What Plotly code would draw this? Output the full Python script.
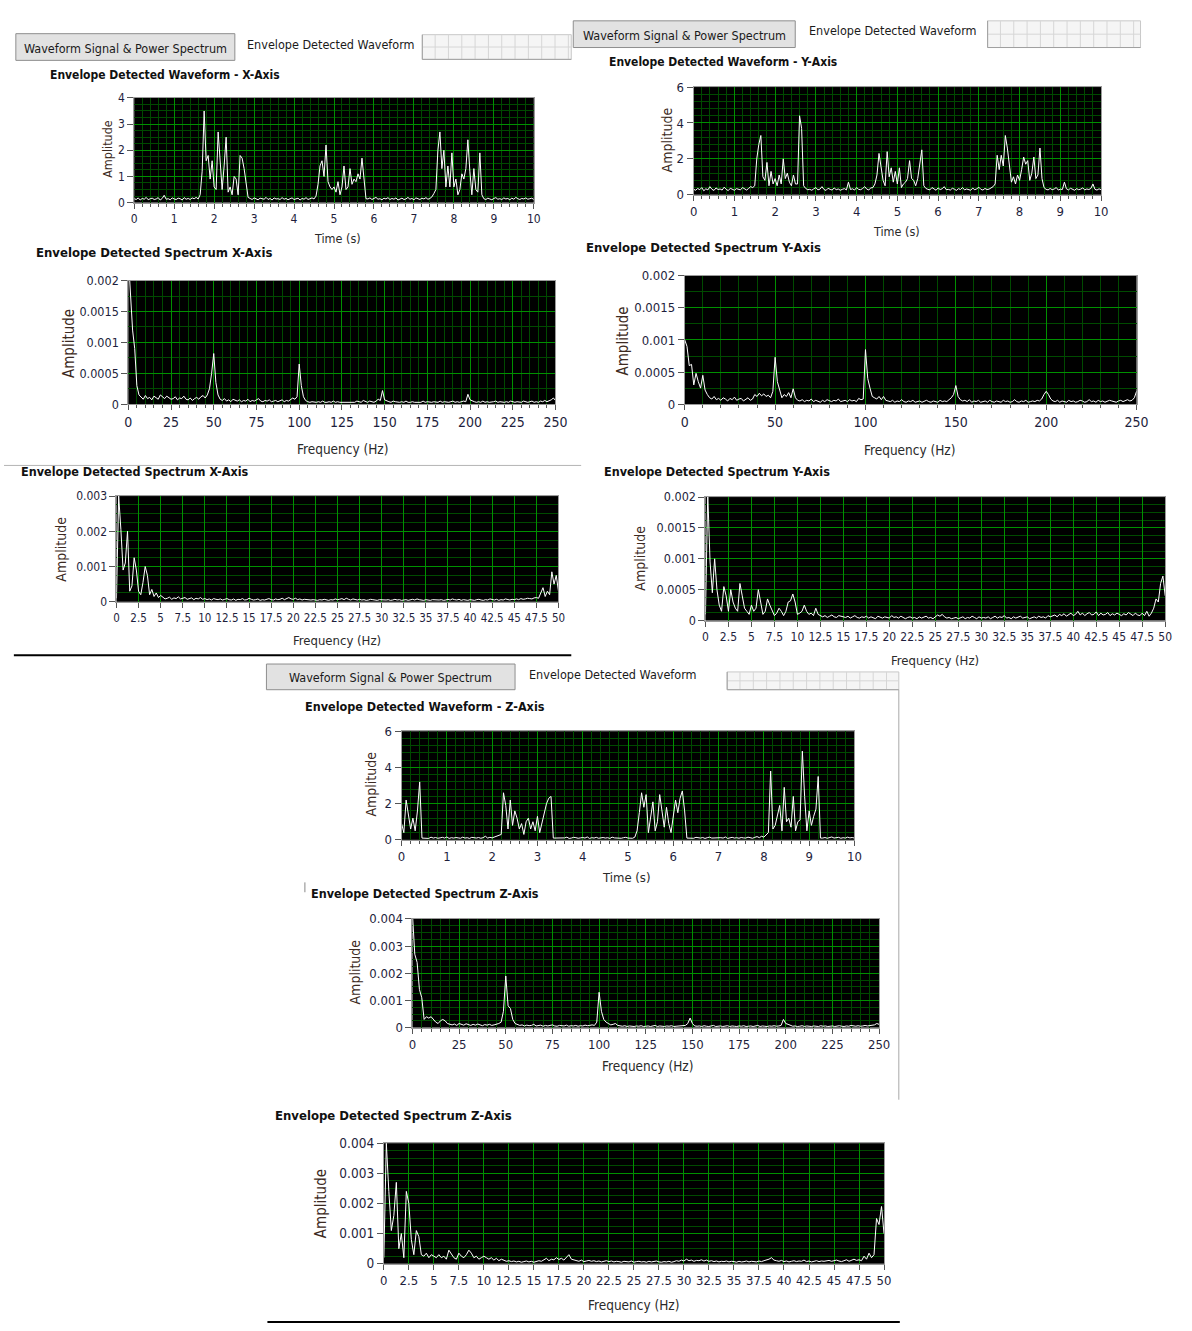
import plotly.graph_objects as go
import numpy as np

W, H = 1192, 1331
FONT = "DejaVu Sans Condensed, Liberation Sans Narrow, Liberation Sans, Arial, sans-serif"

# ---------------- data ----------------
time_step = 0.05      # s between samples
f250_step = 1.25      # Hz between bins (0-250 Hz spectra)
f50_step = 0.25       # Hz between bins (0-50 Hz spectra)
SPEC_UNIT = 1e-4      # spectrum lists are written in units of 1e-4

wave_x = [0.15,0.12,0.18,0.10,0.16,0.13,0.20,0.11,0.15,0.17,0.12,0.14,0.19,0.10,0.16,0.28,0.13,0.15,0.11,0.18,0.14,0.12,0.17,0.15,0.10,0.19,0.13,0.16,0.12,0.18,0.15,0.20,0.14,0.30,
          1.2,3.5,1.6,1.8,0.9,1.6,0.6,0.5,2.7,1.6,0.5,1.4,2.5,0.4,0.6,0.3,1.0,0.9,0.3,1.8,1.7,1.3,0.8,0.2,
          0.16,0.12,0.18,0.14,0.11,0.17,0.15,0.13,0.20,0.12,0.16,0.10,0.18,0.14,0.15,0.12,0.19,0.13,0.16,0.11,0.15,0.18,0.12,0.14,0.17,0.10,0.16,0.13,0.19,0.12,0.15,0.18,0.14,0.25,
          0.7,1.4,1.6,1.0,2.2,0.8,0.6,0.5,0.6,0.4,0.8,0.3,0.6,1.4,0.5,0.6,1.3,0.7,0.9,0.8,1.1,0.9,1.7,0.9,0.15,
          0.14,0.18,0.12,0.16,0.20,0.13,0.15,0.11,0.17,0.14,0.19,0.12,0.16,0.13,0.18,0.10,0.15,0.17,0.12,0.14,0.20,0.13,0.16,0.11,0.18,0.15,0.12,0.17,0.14,0.19,0.13,0.16,0.22,0.35,
          0.5,2.0,2.7,1.3,2.0,0.6,1.4,0.6,1.9,0.6,0.9,0.3,0.5,1.1,0.9,1.3,2.4,1.2,0.3,1.3,0.5,0.4,1.9,0.3,
          0.15,0.12,0.17,0.14,0.11,0.16,0.19,0.13,0.15,0.12,0.18,0.14,0.16,0.11,0.17,0.13,0.20,0.15,0.12,0.16,0.14,0.18,0.13,0.15,0.17,0.12]

wave_y = [0.30,0.25,0.35,0.28,0.40,0.22,0.33,0.27,0.45,0.30,0.24,0.38,0.29,0.32,0.26,0.42,0.30,0.23,0.36,0.28,0.25,0.34,0.30,0.27,0.40,0.31,0.26,0.35,0.45,0.40,
          0.5,2.0,2.8,3.3,1.0,0.8,1.8,0.5,1.3,0.6,0.9,0.5,1.1,0.6,2.0,0.9,1.2,0.7,0.5,1.1,0.6,0.6,4.4,3.7,0.5,
          0.35,0.28,0.30,0.25,0.33,0.40,0.27,0.31,0.45,0.29,0.24,0.36,0.30,0.26,0.38,0.28,0.32,0.25,0.30,0.34,0.27,0.70,0.29,0.33,0.26,0.40,0.30,0.28,0.35,0.45,0.31,0.27,0.38,0.40,
          0.6,1.1,2.3,1.4,0.8,0.5,2.4,1.0,1.5,0.7,1.3,0.6,1.5,0.4,0.6,0.7,0.9,1.9,0.9,0.8,0.5,0.9,1.7,2.5,0.5,
          0.35,0.30,0.27,0.40,0.32,0.25,0.38,0.29,0.33,0.45,0.28,0.30,0.26,0.36,0.31,0.24,0.34,0.29,0.40,0.27,0.32,0.30,0.25,0.37,0.28,0.33,0.42,0.30,0.26,0.35,0.29,0.31,0.40,0.45,
          0.6,2.2,1.4,2.2,1.6,3.3,2.6,1.5,0.7,1.0,0.6,1.1,0.8,1.4,2.1,1.7,1.9,0.8,1.2,2.1,0.9,1.1,2.6,0.9,0.4,
          0.30,0.27,0.35,0.28,0.32,0.40,0.26,0.31,0.29,0.70,0.33,0.27,0.36,0.30,0.25,0.34,0.28,0.31,0.38,0.27,0.32,0.29,0.35,0.60,0.30,0.26,0.33,0.28]

wave_z = [0.9,0.4,2.2,1.4,0.6,1.2,0.5,1.6,3.2,0.1,
          0.10,0.12,0.08,0.15,0.10,0.13,0.09,0.11,0.14,0.10,0.16,0.08,0.12,0.10,0.13,0.11,0.09,0.15,0.10,0.12,0.08,0.14,0.11,0.10,0.13,0.09,0.12,0.20,0.10,0.14,0.11,0.16,0.18,0.22,
          0.3,2.6,1.9,0.6,2.2,0.8,1.6,1.2,0.6,0.9,0.3,1.0,1.2,0.6,1.0,0.5,1.3,0.4,0.9,1.4,2.0,2.3,2.4,0.1,
          0.10,0.13,0.09,0.12,0.11,0.15,0.08,0.10,0.14,0.12,0.09,0.11,0.13,0.10,0.16,0.08,0.12,0.10,0.14,0.09,0.11,0.13,0.10,0.12,0.08,0.15,0.11,0.10,0.13,0.09,0.12,0.14,0.10,0.11,0.09,0.15,
          0.5,1.5,2.6,1.8,2.5,0.4,1.2,2.1,0.5,1.0,2.5,1.6,0.7,1.8,0.9,0.4,1.2,2.2,1.5,2.3,2.7,1.6,0.1,
          0.10,0.12,0.09,0.14,0.11,0.10,0.13,0.08,0.12,0.15,0.10,0.11,0.09,0.13,0.12,0.10,0.16,0.08,0.11,0.14,0.10,0.12,0.09,0.13,0.11,0.10,0.15,0.12,0.09,0.14,0.18,0.12,0.20,0.15,0.25,
          0.4,3.8,0.6,0.8,1.4,1.9,0.5,2.9,1.0,1.2,0.7,2.4,0.5,1.0,1.1,4.9,2.4,0.5,1.6,0.8,1.3,1.7,3.5,0.1,
          0.10,0.13,0.09,0.12,0.16,0.10,0.11,0.14,0.09,0.12,0.10,0.15,0.11,0.13,0.10]

spec_x250 = [24,18,12,9,3,1.5,
             1.2,0.8,1.4,0.9,1.1,0.7,1.3,1.0,0.8,1.5,1.2,0.9,1.3,1.1,0.8,0.9,1.2,0.7,1.0,0.9,1.3,0.8,0.7,1.0,0.6,0.9,1.1,0.8,1.2,1.4,
             1.0,1.5,2.5,5.0,8.2,3.5,1.5,0.8,
             0.6,0.9,0.5,0.7,0.4,0.8,0.6,0.5,0.7,0.4,0.6,0.5,0.8,0.4,0.6,0.5,0.7,0.9,0.5,0.4,0.6,0.5,0.7,0.4,0.5,0.6,0.4,0.5,0.7,0.4,0.6,0.5,0.8,1.0,
             0.8,1.2,6.5,3.0,1.2,0.6,
             0.4,0.3,0.4,0.3,0.3,0.4,0.3,0.5,0.3,0.3,0.4,0.3,0.5,0.3,0.4,0.3,0.3,0.4,0.3,0.3,0.4,0.3,0.3,0.5,0.4,0.3,0.6,0.4,0.3,0.5,0.4,0.3,0.5,
             0.8,0.6,2.2,0.7,
             0.5,0.4,0.3,0.5,0.4,0.3,0.3,0.4,0.3,0.5,0.3,0.3,0.4,0.3,0.3,0.4,0.3,0.5,0.3,0.4,0.3,0.3,0.4,0.3,0.3,0.5,0.3,0.4,0.3,0.3,0.4,0.5,0.3,0.4,0.3,0.4,0.5,
             0.4,1.6,0.7,
             0.5,0.4,0.3,0.4,0.3,0.5,0.3,0.4,0.3,0.3,0.4,0.5,0.3,0.4,0.3,0.3,0.4,0.3,0.5,0.4,0.3,0.4,0.3,0.3,0.5,0.4,0.3,0.4,0.5,0.3,0.4,0.3,0.5,0.4,0.6,0.4,0.5,0.7,
             1.0,0.6]

spec_y250 = [10,9,6,6.2,3,4.8,3.5,2.5,4.5,2.2,1.5,
             1.0,0.8,1.2,0.7,0.9,0.6,1.0,0.8,0.5,0.9,0.7,1.1,0.6,0.8,0.9,0.5,0.7,1.0,0.6,0.8,
             1.5,1.2,1.7,1.3,1.6,1.2,1.4,
             1.0,2.0,7.3,3.5,2.0,1.0,1.5,1.2,1.8,1.0,2.4,1.0,
             0.6,0.5,0.7,0.4,0.6,0.5,0.8,0.4,0.6,0.5,0.3,0.6,0.4,0.7,0.5,0.4,0.6,0.5,0.8,0.4,0.5,0.6,0.4,0.7,0.5,0.6,0.4,0.9,0.7,
             0.8,8.5,4.0,2.5,1.2,1.0,0.8,1.2,0.7,1.2,0.6,
             0.5,0.4,0.6,0.3,0.5,0.4,0.7,0.4,0.3,0.5,0.4,0.6,0.3,0.4,0.5,0.3,0.4,0.6,0.4,0.3,0.5,0.4,0.3,0.6,0.4,0.5,0.4,0.7,
             1.0,1.5,2.9,1.2,0.7,
             0.5,0.6,0.4,0.7,0.3,0.5,0.4,0.6,0.3,0.4,0.5,0.3,0.6,0.4,0.3,0.5,0.4,0.3,0.6,0.4,0.5,0.3,0.4,0.7,0.4,0.3,0.5,0.4,0.6,0.3,0.4,0.5,0.4,0.6,0.5,
             0.8,1.5,2.0,1.5,0.8,
             0.5,0.4,0.6,0.3,0.5,0.4,0.3,0.6,0.4,0.5,0.3,0.4,0.6,0.5,0.3,0.4,0.7,0.4,0.5,0.3,0.6,0.4,0.5,0.3,0.4,0.6,0.5,0.4,0.3,0.5,0.6,0.4,0.5,0.7,0.5,0.6,
             1.0,2.0]

spec_z250 = [42,27,24,14,11,3,4,3.5,4,3,2,1.5,2.5,3,2.5,1.5,1.2,
             1.0,1.3,0.8,1.5,1.1,0.9,1.4,1.0,0.8,1.2,0.9,1.3,1.0,0.7,1.1,0.9,1.2,0.8,1.0,
             1.2,1.5,2.0,6.0,19,8,7,3,1.5,1.0,
             0.8,1.0,0.6,0.9,0.7,0.8,1.2,0.6,0.7,0.9,0.5,0.8,0.6,0.7,1.0,0.6,0.5,0.8,0.7,0.6,0.9,0.5,0.7,0.6,0.8,0.5,0.7,0.6,0.9,0.7,0.8,1.0,
             0.8,2.0,13,6,3,2,1.5,1.0,1.2,1.5,0.8,
             0.6,0.5,0.7,0.4,0.6,0.5,0.4,0.6,0.5,0.7,0.4,0.5,0.6,0.4,0.5,0.8,0.4,0.6,0.5,0.4,0.6,0.5,0.7,0.4,0.5,0.6,0.5,0.7,
             0.8,1.5,3.5,1.5,0.6,
             0.5,0.6,0.4,0.7,0.5,0.4,0.6,0.8,0.4,0.5,0.6,0.4,0.5,0.7,0.4,0.6,0.5,0.4,0.6,0.5,0.7,0.4,0.5,0.6,0.4,0.5,0.8,0.4,0.6,0.5,0.4,0.6,0.5,0.7,0.5,0.6,
             0.8,3.0,1.5,1.2,0.7,
             0.5,0.6,0.4,0.5,0.7,0.4,0.6,0.5,0.4,0.6,0.5,0.4,0.7,0.5,0.6,0.4,0.5,0.6,0.4,0.5,0.7,0.5,0.4,0.6,0.5,0.8,0.6,0.5,0.7,0.5,0.6,0.8,0.6,0.7,0.9,1.0,
             1.5,1.2]

spec_x50 = [1,30,20.5,9,11,20,3,4.5,12.5,9,3,2,5.5,10,7.5,2,3.5,1.5,2.5,1.2,1.8,
            1.2,0.8,1.0,1.3,0.7,1.1,0.9,1.4,0.8,1.0,
            1.2,0.7,0.9,1.1,0.6,1.0,0.8,1.2,0.7,0.9,
            0.6,0.8,0.5,0.9,0.7,0.6,0.8,0.5,0.7,0.9,
            0.6,0.5,0.8,0.4,0.7,0.6,0.9,0.5,0.6,1.0,
            0.7,0.5,0.6,0.8,0.4,0.6,0.5,0.7,0.9,0.6,
            0.5,0.8,0.6,0.7,1.0,0.6,0.9,1.2,0.8,0.7,
            1.0,0.6,0.8,0.5,0.7,0.6,0.4,0.5,0.6,0.5,
            0.4,0.6,0.5,0.7,0.5,0.4,0.6,0.5,0.8,0.6,
            0.7,0.9,0.6,1.0,0.7,0.5,0.8,0.6,0.5,0.7,
            0.5,0.6,0.4,0.5,0.7,0.6,0.5,0.4,0.6,0.5,
            0.4,0.5,0.6,0.4,0.5,0.7,0.5,0.6,0.4,0.5,
            0.6,0.4,0.5,0.7,0.5,0.8,0.6,0.5,0.4,0.6,
            0.5,0.4,0.6,0.5,0.4,0.5,0.6,0.4,0.5,0.7,
            0.5,0.8,0.6,0.5,0.7,0.4,0.6,0.5,0.4,0.6,
            0.5,0.4,0.6,0.7,0.5,0.4,0.6,0.5,0.8,0.6,
            0.5,0.7,0.4,0.6,0.5,0.8,0.6,0.5,0.7,0.6,
            0.8,0.6,0.9,0.7,0.8,1.0,0.9,0.8,1.1,1.2,
            1.0,2.5,4,1.5,3,2,8.5,5,7.5,3]

spec_y50 = [1,20.5,9.5,4.5,10,5,2.5,1.5,5.5,4,
            1.5,5,3,2,1.5,6,4,2,1.5,1.0,
            2.5,1.5,2,5,3,1.0,1.5,3.5,2.5,1.5,
            0.8,1.2,2,1.5,0.8,1.5,3,3.2,4.3,3,
            1.0,1.2,1.5,2.5,1.5,1.0,1.2,0.8,2,1.0,
            0.8,
            0.6,0.8,0.5,0.7,0.9,0.6,0.5,0.8,0.7,0.6,
            0.5,0.7,0.4,0.6,0.8,0.5,0.4,0.6,0.5,0.7,
            0.4,0.6,0.5,0.3,0.7,0.5,0.4,0.6,0.5,0.4,
            0.8,0.5,0.6,0.4,0.7,0.5,0.3,0.5,0.6,0.4,
            0.5,0.3,0.6,0.4,0.5,0.7,0.4,0.5,0.3,0.6,
            0.9,0.7,1.0,0.6,0.4,0.5,0.3,0.4,0.5,0.3,
            0.4,0.6,0.3,0.5,0.4,0.7,0.5,0.3,0.6,0.4,
            0.5,0.4,0.6,0.3,0.5,0.7,0.4,0.6,0.5,0.8,
            0.4,0.5,0.3,0.6,0.4,0.5,0.7,0.4,0.5,0.6,
            0.3,0.5,0.6,0.4,0.7,0.5,0.6,0.4,0.8,0.6,
            0.7,0.9,0.6,1.0,0.8,1.1,0.7,0.9,1.2,0.8,
            1.0,1.5,0.9,1.2,0.8,1.1,1.3,0.9,1.0,1.4,
            0.8,1.2,0.9,1.0,1.3,0.8,1.1,0.9,1.2,1.0,
            0.8,1.1,0.9,1.3,1.0,0.8,1.2,0.9,
            0.8,1.2,0.8,1.5,0.7,1.2,2.0,3.5,3.0,6,7.2,4]

spec_z50 = [2,40,24,11,16,27,5,10,2,24,
            20,8,3,11,9,3,2.5,3.5,2,3,
            2.5,2,3,2,2.5,1.5,4.5,3,2,1.5,
            3.5,2.5,2,3,4.5,3.5,2,2.5,1.5,2,
            2.5,2,1.5,2,1.2,1.8,1.0,1.5,1.2,0.8,
            1.0,
            0.7,0.9,0.6,0.8,0.5,0.7,0.9,0.6,0.8,0.5,0.7,1.0,0.8,
            1.2,1.8,1.0,1.5,1.3,2.0,1.4,1.8,1.2,2.2,3.0,1.5,1.2,
            1.0,0.8,1.2,0.7,0.9,1.1,0.8,1.0,0.7,0.9,
            0.6,0.8,1.0,0.7,0.9,0.6,0.8,0.7,0.5,0.8,
            0.7,0.6,0.9,0.5,0.7,0.8,0.6,0.7,0.5,0.8,
            0.6,0.7,0.9,0.6,0.5,0.7,0.6,0.8,0.5,0.7,
            1.0,0.8,1.2,0.9,1.5,1.0,1.2,0.8,1.1,1.0,
            1.3,0.9,1.2,0.8,1.0,0.7,0.9,0.6,0.8,0.7,
            0.9,0.6,0.8,0.7,0.5,0.8,0.6,0.7,0.9,0.6,
            0.8,0.7,0.6,0.9,0.7,1.0,1.2,1.5,2.0,1.2,
            1.0,0.8,1.1,0.7,0.9,0.6,0.8,1.0,0.7,0.9,
            0.8,1.2,0.7,0.9,0.6,0.8,1.0,0.7,0.9,0.8,
            0.9,1.1,0.8,1.0,1.2,0.9,0.7,1.0,1.3,0.8,
            1.2,1.5,1.1,1.3,
            1.0,2.5,1.5,3.5,2,3,15,13,19,10]

for _arr in (wave_x, wave_y, wave_z, spec_x250, spec_y250, spec_z250, spec_x50, spec_y50, spec_z50):
    assert len(_arr) == 201, len(_arr)

# tick labels
wave_x_yticks = [0, 1, 2, 3, 4]
wave_x_ylabels = ["0", "1", "2", "3", "4"]
wave_yz_yticks = [0, 2, 4, 6]
wave_yz_ylabels = ["0", "2", "4", "6"]
spec_2m_yticks = [0, 0.0005, 0.001, 0.0015, 0.002]
spec_2m_ylabels = ["0", "0.0005", "0.001", "0.0015", "0.002"]
spec_3m_yticks = [0, 0.001, 0.002, 0.003]
spec_3m_ylabels = ["0", "0.001", "0.002", "0.003"]
spec_4m_yticks = [0, 0.001, 0.002, 0.003, 0.004]
spec_4m_ylabels = ["0", "0.001", "0.002", "0.003", "0.004"]

# ---------------- layout helpers ----------------
def fx(p):
    return p / W

def fy(p):
    return 1 - p / H

MAJ = "#009000"
MIN = "#004a00"
TICKC = "#1e1e3c"

panels = [
    dict(v=wave_x, step=time_step, sc=1, rect=(132, 537, 91, 197), xr=[0, 10], yr=[0, 4],
         xd=1, xmd=0.2, ytv=wave_x_yticks, ytt=wave_x_ylabels, ymd=0.25, fsx=12, fsy=12),
    dict(v=spec_x250, step=f250_step, sc=SPEC_UNIT, rect=(126, 559, 276, 401), xr=[0, 250], yr=[0, 0.002],
         xd=25, xmd=5, ytv=spec_2m_yticks, ytt=spec_2m_ylabels, ymd=0.00025, fsx=14, fsy=12.5),
    dict(v=spec_x50, step=f50_step, sc=SPEC_UNIT, rect=(114, 562, 494, 601), xr=[0, 50], yr=[0, 0.003],
         xd=2.5, xmd=None, ytv=spec_3m_yticks, ytt=spec_3m_ylabels, ymd=0.00025, fsx=11.5, fsy=12),
    dict(v=wave_y, step=time_step, sc=1, rect=(699, 1112, 80, 189), xr=[0, 10], yr=[0, 6],
         xd=1, xmd=0.2, ytv=wave_yz_yticks, ytt=wave_yz_ylabels, ymd=0.4, fsx=13, fsy=13),
    dict(v=spec_y250, step=f250_step, sc=SPEC_UNIT, rect=(690, 1148, 271, 401), xr=[0, 250], yr=[0, 0.002],
         xd=50, xmd=10, ytv=spec_2m_yticks, ytt=spec_2m_ylabels, ymd=0.00025, fsx=14, fsy=13),
    dict(v=spec_y50, step=f50_step, sc=SPEC_UNIT, rect=(711, 1177, 495, 620), xr=[0, 50], yr=[0, 0.002],
         xd=2.5, xmd=None, ytv=spec_2m_yticks, ytt=spec_2m_ylabels, ymd=0.000125, fsx=12, fsy=12.5),
    dict(v=wave_z, step=time_step, sc=1, rect=(403, 862, 732, 842), xr=[0, 10], yr=[0, 6],
         xd=1, xmd=0.2, ytv=wave_yz_yticks, ytt=wave_yz_ylabels, ymd=0.4, fsx=13, fsy=13),
    dict(v=spec_z250, step=f250_step, sc=SPEC_UNIT, rect=(414, 887, 922, 1032), xr=[0, 250], yr=[0, 0.004],
         xd=25, xmd=5, ytv=spec_4m_yticks, ytt=spec_4m_ylabels, ymd=0.00025, fsx=13, fsy=13),
    dict(v=spec_z50, step=f50_step, sc=SPEC_UNIT, rect=(385, 892, 1149, 1271), xr=[0, 50], yr=[0, 0.004],
         xd=2.5, xmd=None, ytv=spec_4m_yticks, ytt=spec_4m_ylabels, ymd=0.00025, fsx=13, fsy=13.5),
]

fig = go.Figure()
layout_axes = {}
for k, p in enumerate(panels, start=1):
    n = len(p["v"])
    xs = np.arange(n) * p["step"]
    ys = np.array(p["v"], dtype=float) * p["sc"]
    xa = "x" if k == 1 else f"x{k}"
    ya = "y" if k == 1 else f"y{k}"
    fig.add_trace(go.Scatter(x=xs, y=ys, xaxis=xa, yaxis=ya, mode="lines",
                             line=dict(color="white", width=1), hoverinfo="skip", showlegend=False))
    x0, x1, yt, yb = p["rect"]
    xminor = dict(showgrid=False)
    if p["xmd"]:
        xminor = dict(dtick=p["xmd"], tick0=0, showgrid=True, gridcolor=MIN, gridwidth=1,
                      ticks="outside", ticklen=3, tickcolor="#555555")
    layout_axes["xaxis" if k == 1 else f"xaxis{k}"] = dict(
        domain=[fx(x0), fx(x1)], range=p["xr"], anchor=ya, tickmode="linear", tick0=0, dtick=p["xd"],
        tickangle=0,
        showgrid=True, gridcolor=MAJ, gridwidth=1, zeroline=False,
        showline=True, linecolor="#9a9a9a", linewidth=1, mirror=True,
        ticks="outside", ticklen=5, tickcolor="#555555",
        tickfont=dict(family=FONT, size=p["fsx"], color=TICKC), minor=xminor, fixedrange=True)
    layout_axes["yaxis" if k == 1 else f"yaxis{k}"] = dict(
        domain=[fy(yb), fy(yt)], range=p["yr"], anchor=xa, tickmode="array",
        tickvals=p["ytv"], ticktext=p["ytt"],
        showgrid=True, gridcolor=MAJ, gridwidth=1, zeroline=False,
        showline=True, linecolor="#9a9a9a", linewidth=1, mirror=True,
        ticks="outside", ticklen=6, tickcolor="#555555",
        tickfont=dict(family=FONT, size=p["fsy"], color=TICKC),
        minor=dict(dtick=p["ymd"], tick0=0, showgrid=True, gridcolor=MIN, gridwidth=1), fixedrange=True)

annotations = []

def txt(s, x, y, size, bold=False, color="#111111", anchor="left", angle=0):
    annotations.append(dict(text=f"<b>{s}</b>" if bold else s, x=fx(x), y=fy(y), xref="paper", yref="paper",
                            xanchor=anchor, yanchor="middle", showarrow=False, textangle=angle,
                            font=dict(family=FONT, size=size, color=color)))

# panel titles
titles = [
    ("Envelope Detected Waveform - X-Axis", 45, 68, 12),
    ("Envelope Detected Spectrum X-Axis", 30, 247, 13),
    ("Envelope Detected Spectrum X-Axis", 15, 469, 12.5),
    ("Envelope Detected Waveform - Y-Axis", 611, 55, 12),
    ("Envelope Detected Spectrum Y-Axis", 588, 242, 13),
    ("Envelope Detected Spectrum Y-Axis", 606, 469, 12.5),
    ("Envelope Detected Waveform - Z-Axis", 303, 707, 12.5),
    ("Envelope Detected Spectrum Z-Axis", 309, 896, 12.5),
    ("Envelope Detected Spectrum Z-Axis", 273, 1121, 13),
]
for s, x, y, sz in titles:
    txt(s, x, y, sz, bold=True)

AMP_C = "#3c2a22"
XT_C = "#2a2a2a"
axis_titles = [
    ("Amplitude", 105, 143, 12.5, "Time (s)", 338, 233, 12.5),
    ("Amplitude", 66, 340, 15, "Frequency (Hz)", 343, 446, 13.5),
    ("Amplitude", 58, 548, 14, "Frequency (Hz)", 338, 640, 13),
    ("Amplitude", 672, 133, 14, "Time (s)", 905, 226, 12.5),
    ("Amplitude", 627, 337, 15, "Frequency (Hz)", 918, 447, 13.5),
    ("Amplitude", 645, 557, 14, "Frequency (Hz)", 944, 660, 13),
    ("Amplitude", 372, 786, 14, "Time (s)", 631, 880, 13),
    ("Amplitude", 356, 976, 14, "Frequency (Hz)", 652, 1071, 13.5),
    ("Amplitude", 322, 1210, 15, "Frequency (Hz)", 638, 1313, 13.5),
]
for a, ax, ay, asz, t, tx, ty, tsz in axis_titles:
    txt(a, ax, ay, asz, color=AMP_C, anchor="center", angle=-90)
    txt(t, tx, ty, tsz, color=XT_C, anchor="center")

# tab strips
shapes = []

def rect(x0, y0, x1, y1, fill, line, lw=1):
    shapes.append(dict(type="rect", xref="paper", yref="paper", x0=fx(x0), x1=fx(x1), y0=fy(y1), y1=fy(y0),
                       fillcolor=fill, line=dict(color=line, width=lw), layer="above"))

def hline(x0, x1, y, color, lw=1):
    shapes.append(dict(type="line", xref="paper", yref="paper", x0=fx(x0), x1=fx(x1), y0=fy(y), y1=fy(y),
                       line=dict(color=color, width=lw), layer="above"))

def vline(x, y0, y1, color, lw=1):
    shapes.append(dict(type="line", xref="paper", yref="paper", x0=fx(x), x1=fx(x), y0=fy(y0), y1=fy(y1),
                       line=dict(color=color, width=lw), layer="above"))

tabs = [
    # button rect, label pos, grid rect
    ((12, 26, 234, 53), (244, 37), (424, 27, 575, 52)),
    ((577, 13, 802, 40), (814, 23), (997, 13, 1152, 40)),
    ((266, 664, 518, 690), (530, 675), (733, 672, 907, 690)),
]
for (bx0, by0, bx1, by1), (lx, ly), (gx0, gy0, gx1, gy1) in tabs:
    rect(bx0, by0, bx1, by1, "#e2e2e2", "#8e8e8e")
    txt("Waveform Signal &amp; Power Spectrum", (bx0 + bx1) / 2, (by0 + by1) / 2 + 1, 12.5, color="#1a1a1a", anchor="center")
    txt("Envelope Detected Waveform", lx, ly, 12.5, color="#1a1a1a")
    rect(gx0, gy0, gx1, gy1, "#f5f5f5", "#c8c8c8")
    gx = gx0 + 13
    while gx < gx1 - 2:
        vline(gx, gy0, gy1, "#d6d6d6")
        gx += 13.5
    hline(gx0, gx1, (gy0 + gy1) / 2, "#d6d6d6")
    vline(gx0, gy0, gy1, "#a0a0a0")
    hline(gx0, gx1, gy1, "#a0a0a0")

# separators
hline(0, 585, 463, "#b4b4b4")
hline(10, 575, 655, "#000000", 2)
hline(267, 908, 1330, "#000000", 2)
vline(907, 690, 1105, "#a8a8a8")
vline(305, 885, 895, "#888888")

fig.update_layout(
    width=W, height=H, margin=dict(l=0, r=0, t=0, b=0), autosize=False,
    paper_bgcolor="white", plot_bgcolor="black", showlegend=False,
    annotations=annotations, shapes=shapes, **layout_axes)

fig.write_html("out.html", config={"displayModeBar": False},
               post_script="document.body.style.margin='0';")
